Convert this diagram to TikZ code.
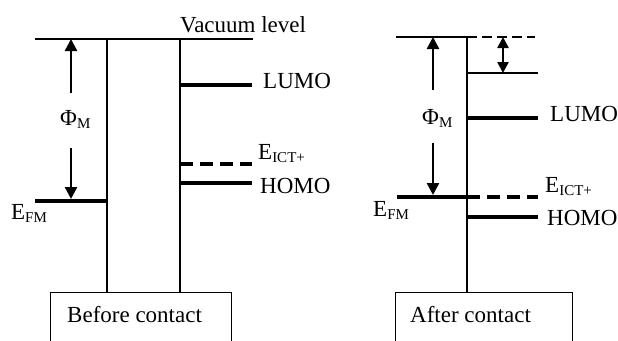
\documentclass[tikz,border=0pt]{standalone}
\usepackage{fontspec}
\setmainfont{Liberation Serif}
\usetikzlibrary{arrows.meta}
\newcommand{\lsub}[1]{\raisebox{-3pt}{\fontsize{15}{15}\selectfont #1}}

\begin{document}
\begin{tikzpicture}[x=1pt, y=-1pt, every node/.style={font=\fontsize{23}{27}\selectfont, inner sep=0pt}]
\tikzset{
  vline/.style={line width=1.3pt},
  level/.style={line width=4pt},
  ctlevel/.style={line width=3.5pt, dash pattern=on 13pt off 7pt},
  vacdash/.style={line width=1.6pt, dash pattern=on 10pt off 5pt},
  arrow/.style={-{Triangle[length=12pt,width=12pt]}, line width=2.4pt},
  darrow/.style={{Triangle[length=11pt,width=11pt]}-{Triangle[length=11pt,width=11pt]}, line width=2.4pt},
  box/.style={draw, line width=1.3pt, anchor=north west, minimum height=60pt}
}
\useasboundingbox (0,0) rectangle (618,340);

% Before contact
\coordinate (vacL0) at (35,39);
\coordinate (vacL1) at (253,39);
\coordinate (mL) at (107,39);
\coordinate (oL) at (180,39);
\node[box, minimum width=181pt] (boxL) at (50,292) {};
\node[anchor=base west] (txtL) at (67,322) {Before contact};
\node[anchor=base west] (vac) at (180,32) {Vacuum level};
\coordinate (efL0) at (35,201);
\coordinate (efL1) at (107,201);
\coordinate (lumoL0) at (180,85);
\coordinate (lumoL1) at (252,85);
\coordinate (ictL0) at (180,164);
\coordinate (ictL1) at (252,164);
\coordinate (homoL0) at (180,183);
\coordinate (homoL1) at (252,183);
\node[anchor=base west] (lumoLt) at (263,88) {LUMO};
\node[anchor=base west] (ictLt) at (258,159) {E\lsub{ICT+}};
\node[anchor=base west] (homoLt) at (260,193) {HOMO};
\node[anchor=base west] (efLt) at (11,219) {E\lsub{FM}};
\node[anchor=base west] (phiL) at (60,125) {Φ\lsub{M}};
\coordinate (phiLa) at (71,93);
\coordinate (phiLb) at (71,148);

\draw[vline] (vacL0) -- (vacL1);
\draw[vline] (mL) -- (mL |- boxL.north);
\draw[vline] (oL) -- (oL |- boxL.north);
\draw[level] (efL0) -- (efL1);
\draw[level] (lumoL0) -- (lumoL1);
\draw[ctlevel] (ictL0) -- (ictL1);
\draw[level] (homoL0) -- (homoL1);
\draw[arrow] (phiLa) -- (phiLa |- vacL0);
\draw[arrow] (phiLb) -- ([yshift=2pt]phiLb |- efL0);

% After contact
\coordinate (vacR0) at (396,37);
\coordinate (mR) at (467,37);
\coordinate (vacR1) at (535,37);
\coordinate (shR0) at (467,73);
\coordinate (shR1) at (538,73);
\node[box, minimum width=177pt] (boxR) at (395,292) {};
\node[anchor=base west] (txtR) at (410,322) {After contact};
\coordinate (efR0) at (397,197);
\coordinate (efR1) at (467,197);
\coordinate (ictR1) at (538,197);
\coordinate (lumoR0) at (467,118);
\coordinate (lumoR1) at (538,118);
\coordinate (homoR0) at (467,217);
\coordinate (homoR1) at (538,217);
\node[anchor=base west] (lumoRt) at (550,121) {LUMO};
\node[anchor=base west] (ictRt) at (545,192) {E\lsub{ICT+}};
\node[anchor=base west] (homoRt) at (547,225) {HOMO};
\node[anchor=base west] (efRt) at (373,216) {E\lsub{FM}};
\node[anchor=base west] (phiR) at (422,124) {Φ\lsub{M}};
\coordinate (phiRa) at (433,90);
\coordinate (phiRb) at (433,143);
\coordinate (shift) at (503,37);

\draw[vline] (vacR0) -- (mR);
\draw[vacdash] (mR) -- (vacR1);
\draw[vline] (mR) -- (mR |- boxR.north);
\draw[vline] (shR0) -- (shR1);
\draw[level] (efR0) -- (efR1);
\draw[ctlevel] (efR1) -- (ictR1);
\draw[level] (lumoR0) -- (lumoR1);
\draw[level] (homoR0) -- (homoR1);
\draw[arrow] (phiRa) -- (phiRa |- vacR0);
\draw[arrow] (phiRb) -- ([yshift=2pt]phiRb |- efR0);
\draw[darrow] (shift) -- (shift |- shR0);
\end{tikzpicture}
\end{document}
